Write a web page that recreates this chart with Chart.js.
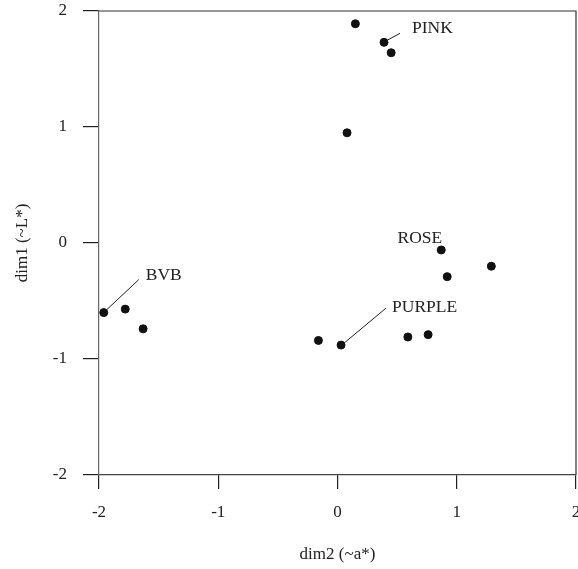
<!DOCTYPE html>
<html>
<head>
<meta charset="utf-8">
<script src="https://cdn.jsdelivr.net/npm/chart.js@4.4.1/dist/chart.umd.min.js"></script>
<style>
  body { margin: 0; background: #fff; }
</style>
</head>
<body>
<canvas id="c" width="578" height="569"></canvas>
<script>
// colour samples, MDS coordinates
var dim2 = [0.15, 0.39, 0.45, 0.08, 0.87, 0.92, 1.29, -1.96, -1.78, -1.63, -0.16, 0.03, 0.59, 0.76];
var dim1 = [1.89, 1.73, 1.64, 0.95, -0.06, -0.29, -0.20, -0.60, -0.57, -0.74, -0.84, -0.88, -0.81, -0.79];
var tickValues = [-2, -1, 0, 1, 2];

// named samples: index into the arrays above
var namedIdx = [1, 4, 7, 11];
var names = ['PINK', 'ROSE', 'BVB', 'PURPLE'];

// label placement relative to the point (pixels)
var labelPos = {
    PINK:   {dx: 28, dy: -14, align: 'left',  line: [3, -2, 16, -9]},
    ROSE:   {dx: 1,  dy: -12, align: 'right', line: null},
    BVB:    {dx: 42, dy: -37, align: 'left',  line: [2, -2, 35, -33]},
    PURPLE: {dx: 51, dy: -38, align: 'left',  line: [3, -2, 45, -37]}
};

var fontFamily = '"Liberation Serif", "Times New Roman", serif';

var points = dim2.map(function (x, i) { return {x: x, y: dim1[i]}; });

function noPadding() { return {left: 0, top: 0, right: 0, bottom: 0}; }

var frame = {
    id: 'frame',
    afterDraw: function (chart) {
        var a = chart.chartArea, ctx = chart.ctx;
        ctx.save();
        ctx.strokeStyle = '#333';
        ctx.lineWidth = 1.2;
        ctx.beginPath();
        ctx.moveTo(a.left, a.top);
        ctx.lineTo(a.right, a.top);
        ctx.lineTo(a.right, a.bottom);
        ctx.stroke();
        ctx.restore();
    }
};

var pointLabels = {
    id: 'pointLabels',
    afterDatasetsDraw: function (chart) {
        var ctx = chart.ctx;
        var xs = chart.scales.x, ys = chart.scales.y;
        ctx.save();
        ctx.font = '17.5px ' + fontFamily;
        ctx.fillStyle = '#222';
        ctx.strokeStyle = '#222';
        ctx.lineWidth = 1;
        ctx.textBaseline = 'middle';
        namedIdx.forEach(function (idx, k) {
            var px = xs.getPixelForValue(dim2[idx]);
            var py = ys.getPixelForValue(dim1[idx]);
            var p = labelPos[names[k]];
            if (p.line) {
                ctx.beginPath();
                ctx.moveTo(px + p.line[0], py + p.line[1]);
                ctx.lineTo(px + p.line[2], py + p.line[3]);
                ctx.stroke();
            }
            ctx.textAlign = p.align;
            ctx.fillText(names[k], px + p.dx, py + p.dy);
        });
        ctx.restore();
    }
};

new Chart(document.getElementById('c').getContext('2d'), {
    type: 'scatter',
    data: {
        datasets: [{
            data: points,
            backgroundColor: '#111',
            borderColor: '#111',
            pointRadius: 4,
            pointHoverRadius: 4
        }]
    },
    options: {
        responsive: false,
        animation: false,
        layout: {autoPadding: false, padding: {left: 0, top: 11, right: 2, bottom: 0}},
        plugins: {legend: {display: false}, tooltip: {enabled: false}},
        scales: {
            x: {
                type: 'linear',
                min: -2, max: 2,
                afterBuildTicks: function (s) { s.ticks = tickValues.map(function (v) { return {value: v}; }); },
                afterFit: function (s) { s.height = 94; s.getPadding = noPadding; },
                grid: {drawOnChartArea: false, drawTicks: true, tickLength: 14, color: '#222', lineWidth: 1.2},
                border: {display: true, color: '#444', width: 1.2},
                ticks: {color: '#222', padding: 13, font: {family: fontFamily, size: 17}},
                title: {display: true, text: 'dim2 (~a*)', color: '#222',
                        font: {family: fontFamily, size: 17}, padding: {top: 0, bottom: 4}}
            },
            y: {
                type: 'linear',
                min: -2, max: 2,
                afterBuildTicks: function (s) { s.ticks = tickValues.map(function (v) { return {value: v}; }); },
                afterFit: function (s) { s.width = 99; s.getPadding = noPadding; },
                grid: {drawOnChartArea: false, drawTicks: true, tickLength: 16, color: '#222', lineWidth: 1.2},
                border: {display: true, color: '#666', width: 1.2},
                ticks: {color: '#222', padding: 16, font: {family: fontFamily, size: 17}},
                title: {display: true, text: 'dim1 (~L*)', color: '#222',
                        font: {family: fontFamily, size: 17}, padding: {top: 12, bottom: 0}}
            }
        }
    },
    plugins: [frame, pointLabels]
});
</script>
</body>
</html>
